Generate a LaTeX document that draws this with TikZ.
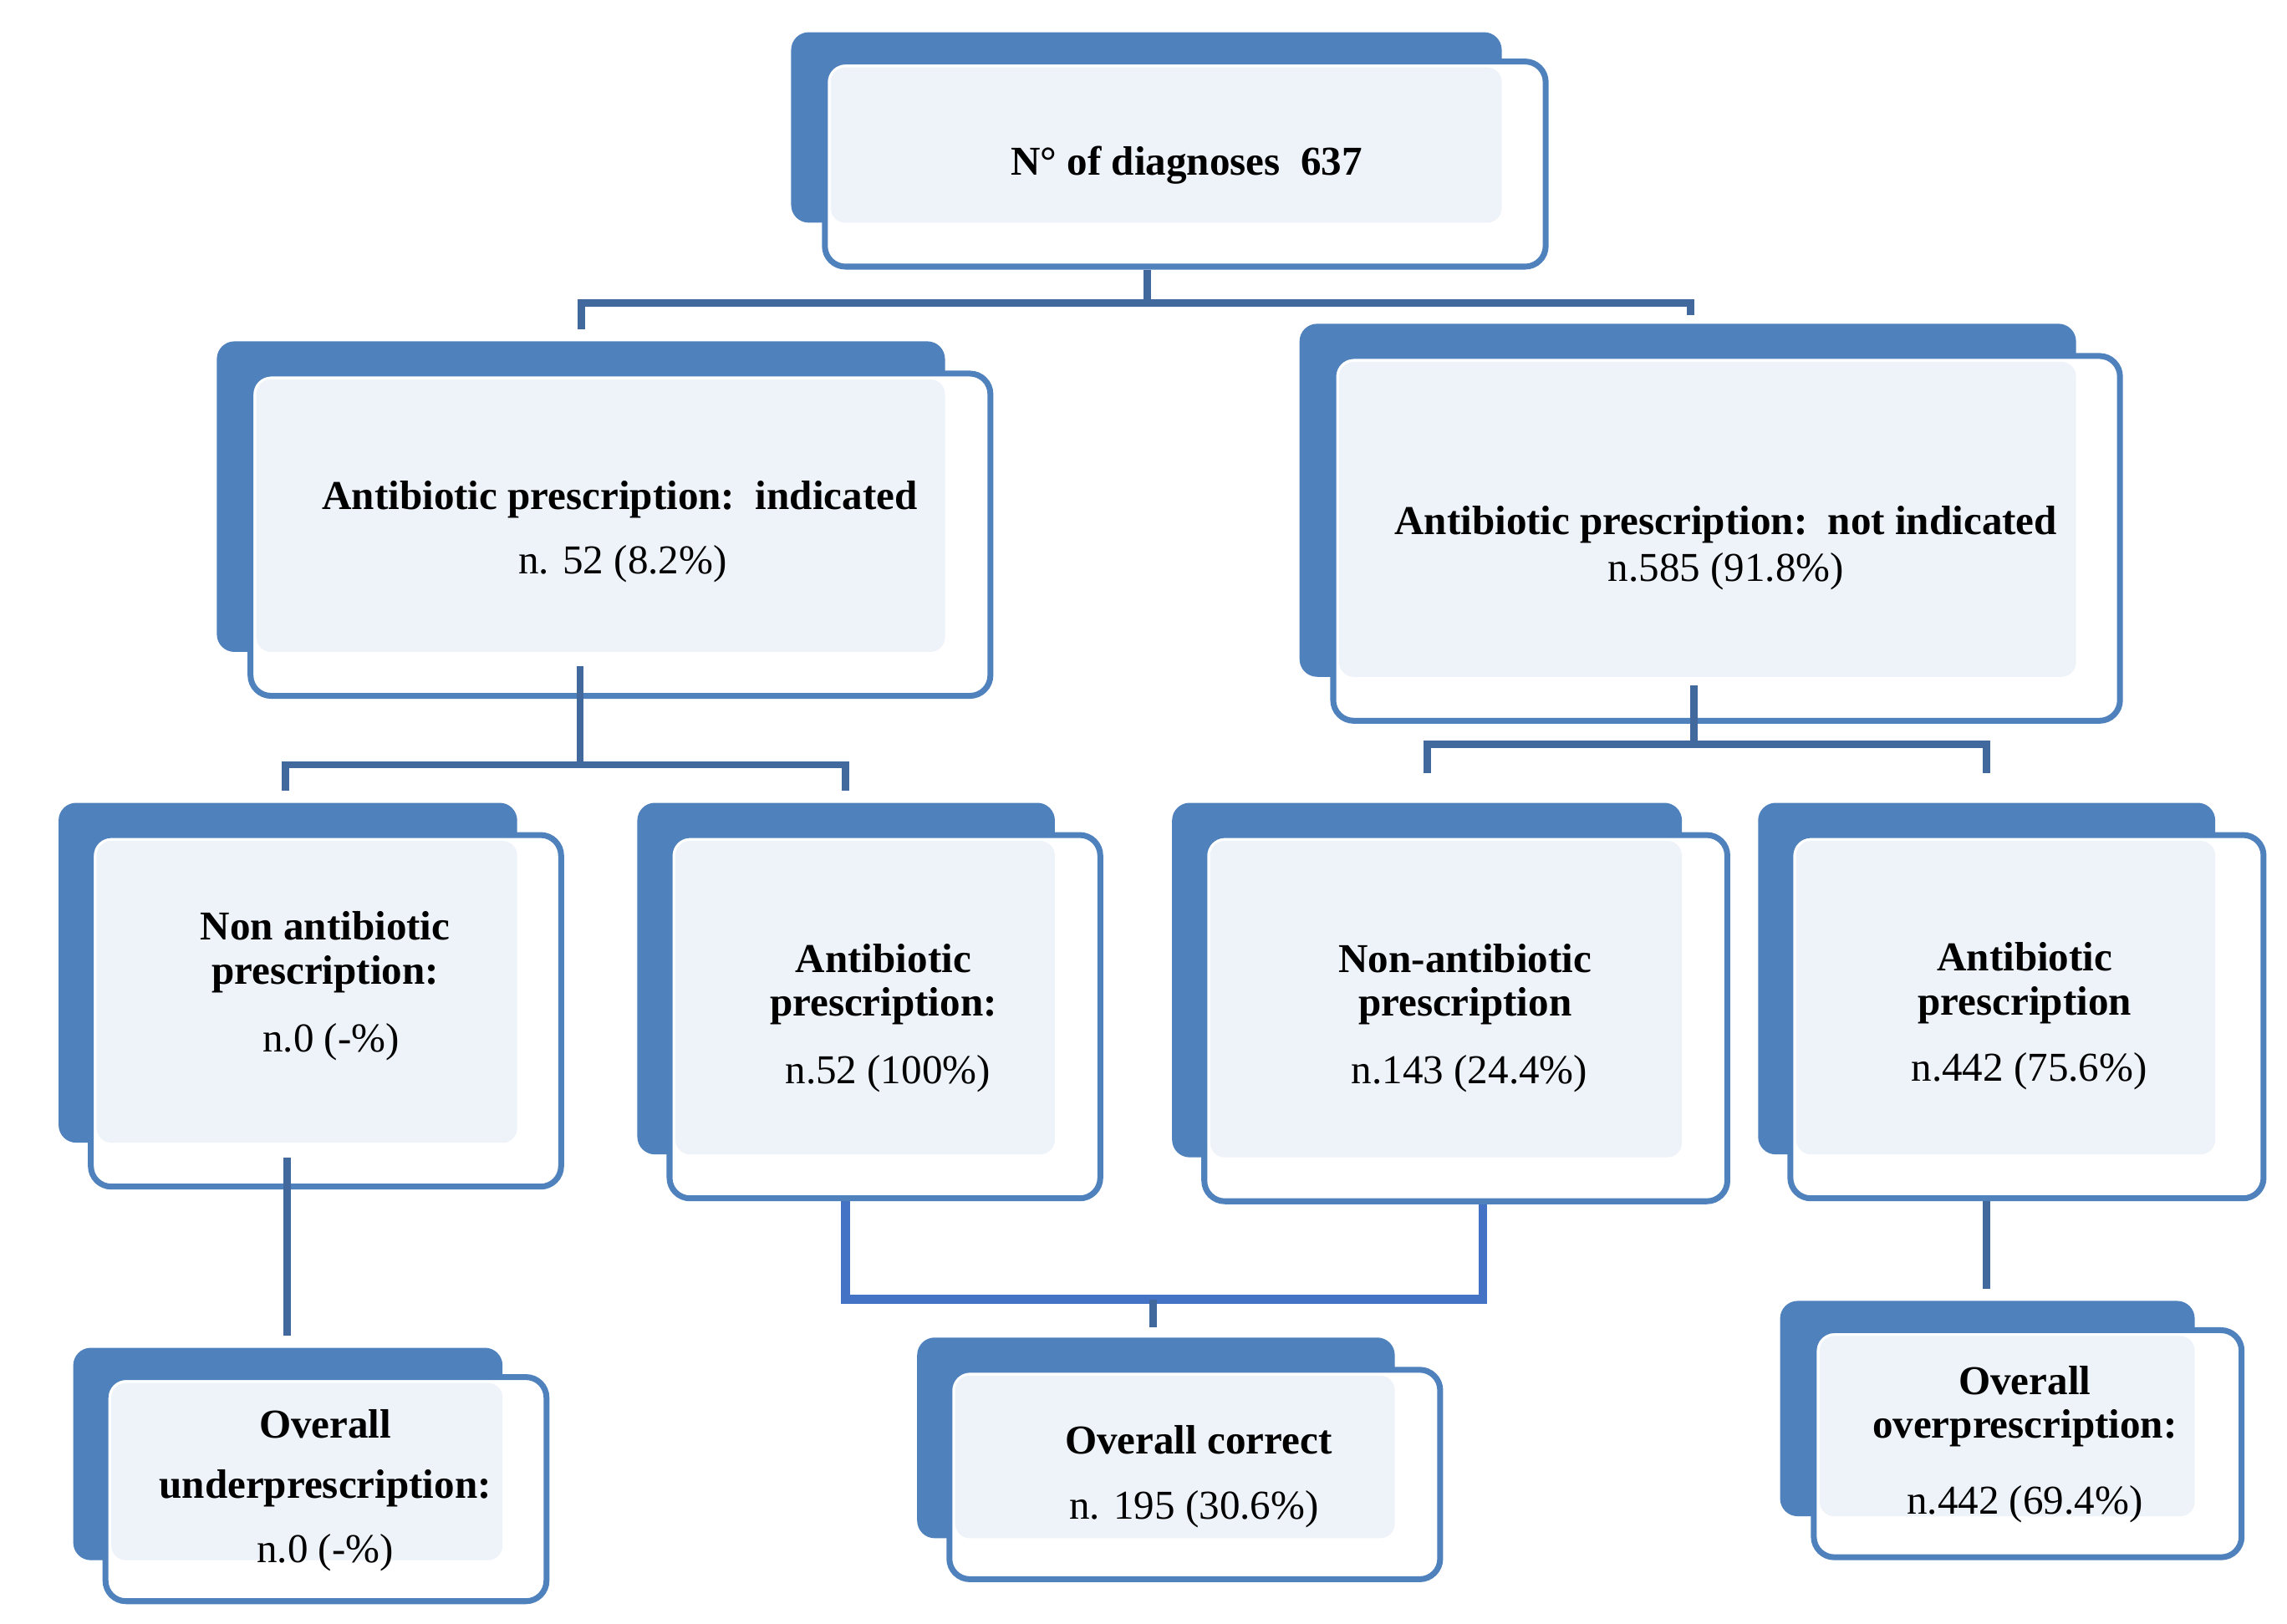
\documentclass[tikz,border=0pt]{standalone}
\usepackage{fontspec}
\setmainfont{Liberation Serif}
\definecolor{dk}{HTML}{4F81BD}
\definecolor{lt}{HTML}{EEF2F9}
\definecolor{ln}{HTML}{41699E}
\definecolor{ln2}{HTML}{4472C4}
\newcommand{\mybox}[9]{%
 % #1 name, #2-#5 dark x1 y1 x2 y2, #6-#9 front x1 y1 x2 y2
 \fill[dk,rounded corners=12pt] (#2,#3) rectangle (#4,#5);
 \draw[dk,line width=4pt,fill=white,rounded corners=14pt] (#6,#7) rectangle (#8,#9);
 \fill[lt,rounded corners=10pt] (#6+4,#7+4) rectangle (#4,#5);
 \coordinate (#1) at ({(#6+#8)/2},{(#7+#9)/2});
 \coordinate (#1-n) at ({(#6+#8)/2},#7);
 \coordinate (#1-s) at ({(#6+#8)/2},#9);
}
\begin{document}
\begin{tikzpicture}[x=1pt,y=-1pt,
 t/.style={font=\fontsize{28}{30}\selectfont\bfseries,align=center,inner sep=0},
 r/.style={font=\fontsize{28}{30}\selectfont,align=center,inner sep=0},
 c/.style={ln,line width=5pt},
 c2/.style={ln2,line width=6pt}]
\useasboundingbox (0,0) rectangle (1561,1108);
% connectors (drawn first)
\mybox{b1}{540}{22}{1025}{152}{563}{42}{1055}{182}
\mybox{b2}{148}{233}{645}{445}{171}{255}{676}{475}
\mybox{b3}{887}{221}{1417}{462}{910}{243}{1447}{492}
\mybox{b4}{40}{548}{353}{780}{62}{570}{383}{810}
\mybox{b5}{435}{548}{720}{788}{457}{570}{751}{818}
\mybox{b6}{800}{548}{1148}{790}{822}{570}{1179}{820}
\mybox{b7}{1200}{548}{1512}{788}{1222}{570}{1545}{818}
\mybox{b8}{50}{920}{343}{1065}{72}{940}{373}{1093}
\mybox{b9}{626}{913}{952}{1050}{648}{935}{983}{1078}
\mybox{b10}{1215}{888}{1498}{1035}{1238}{908}{1530}{1063}
% connectors
\coordinate (j1) at (783,207);
\draw[c] (783,184) -- (j1);
\draw[c] (397,225) -- (397,207) -- (1154,207) -- (1154,215);
\draw[c] (396,455) -- (396,522);
\draw[c] (195,540) -- (195,522) -- (577,522) -- (577,540);
\draw[c] (1156,468) -- (1156,508);
\draw[c] (974,528) -- (974,508) -- (1356,508) -- (1356,528);
\draw[c] (196,790) -- (196,912);
\draw[c2] (577,820) -- (577,887) -- (1012,887) -- (1012,822);
\draw[c] (787,887) -- (787,906);
\draw[c] (1356,820) -- (1356,880);
% texts
\node[t] (t1) at (810,113) {N° of diagnoses\ \ 637};
\node[t] (t2) at (423,341) {Antibiotic prescription:\ \ indicated};
\node[r] (t2b) at (425,385) {n. 52 (8.2\%)};
\node[t] (t3) at (1178,358) {Antibiotic prescription:\ \ not indicated};
\node[r] (t3b) at (1178,390) {n.585 (91.8\%)};
\node[t] (t4) at (222,650) {Non antibiotic\\prescription:};
\node[r] (t4b) at (226,711) {n.0 (-\%)};
\node[t] (t5) at (603,672) {Antibiotic\\prescription:};
\node[r] (t5b) at (606,733) {n.52 (100\%)};
\node[t] (t6) at (1000,672) {Non-antibiotic\\prescription};
\node[r] (t6b) at (1003,733) {n.143 (24.4\%)};
\node[t] (t7) at (1382,671) {Antibiotic\\prescription};
\node[r] (t7b) at (1385,731) {n.442 (75.6\%)};
\node[t] (t8) at (222,972) {Overall};
\node[t] (t8a) at (222,1016) {underprescription:};
\node[r] (t8b) at (222,1060) {n.0 (-\%)};
\node[t] (t9) at (818,983) {Overall correct};
\node[r] (t9b) at (815,1030) {n. 195 (30.6\%)};
\node[t] (t10) at (1382,960) {Overall\\overprescription:};
\node[r] (t10b) at (1382,1027) {n.442 (69.4\%)};
\end{tikzpicture}
\end{document}
